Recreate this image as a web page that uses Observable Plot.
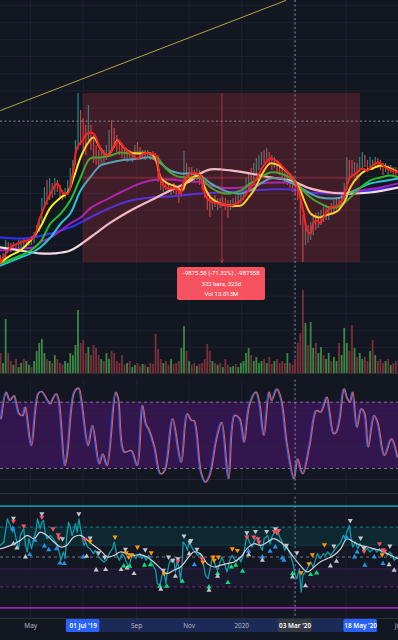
<!DOCTYPE html>
<html>
<head>
<meta charset="utf-8">
<script src="https://cdn.jsdelivr.net/npm/d3@7"></script>
<script src="https://cdn.jsdelivr.net/npm/@observablehq/plot@0.6"></script>
<style>
html,body{margin:0;padding:0;background:#131722;}
#wrap{position:relative;width:398px;height:640px;overflow:hidden;background:#131722;font-family:Roboto,"Liberation Sans",sans-serif;}
#wrap svg{position:absolute;left:0;}
.sep{position:absolute;left:0;width:398px;height:1px;background:#2a2e39;}
</style>
</head>
<body>
<div id="wrap"></div>
<script>
// ---------- DATA ----------
// time grid: day index since 2019-03-27 (daily BTC chart)
const startDate = "2019-03-27";
const endDate = "2020-07-01";

// candles sampled every 3 days: high / low (price), up flag
const candleHigh = [4380,4500,5260,5140,5080,5140,5020,5260,5260,5370,
 5310,5370,5490,5720,6130,6540,7710,8350,8760,8880,
 8590,8880,8760,8470,8180,8290,8760,9460,9930,11100,
 13850,12850,12380,11980,13150,11980,11390,10810,10520,10630,
 10520,10810,11680,12270,11800,11390,11100,10920,10630,10520,
 10520,10400,10810,10980,10690,10520,10520,10520,10400,10460,
 10340,10220,8880,8760,8700,8590,8470,8590,8470,8350,
 8470,10460,9760,9520,9520,9350,9460,9350,9050,8470,
 8060,7710,7710,7890,7710,7710,7770,7710,7590,7590,
 7710,7830,7890,8000,8290,8880,9230,9460,9760,10050,
 10220,10400,10520,10630,10400,10220,10110,9930,9760,9460,
 9350,9230,9050,8760,8590,8350,8180,6720,6310,6130,
 6310,6600,6830,6890,7010,7180,7300,7180,7420,7590,
 7770,7710,8000,8590,10110,9930,9930,9810,9760,10110,
 10400,10220,9930,10110,9930,10110,10050,9930,9760,9760,
 9640,9640,9520,9520];
const candleLow = [3970,4090,4200,4670,4550,4670,4550,4670,4790,4790,
 4850,4900,4960,5080,5370,5720,6310,7130,7300,7590,
 7710,7890,8060,7770,7590,7710,7890,8470,9050,9640,
 10520,10810,10520,10220,11100,10520,9760,9640,9460,9640,
 9760,9930,10220,10520,10630,10400,10220,10050,9930,9810,
 9930,9810,10050,10220,10110,10050,9930,10050,9930,9930,
 9760,8640,8180,8060,8180,8000,7890,8000,7830,7420,
 7770,8180,8760,8760,8880,8640,8760,8470,8180,7710,
 7010,6600,7010,7180,7010,7130,7240,7010,6540,7010,
 7130,7180,7300,7420,7590,7890,8180,8470,8760,9050,
 9350,9640,9760,9930,9640,9350,9460,9230,9050,8760,
 8590,8470,8290,8060,7890,7590,6130,3970,4960,5080,
 5260,5550,5840,5960,6130,6310,6420,6420,6720,6890,
 7010,7010,7180,7590,8180,8880,9050,8940,8760,9230,
 9350,9520,9230,9460,9350,9520,9460,9350,9050,9230,
 9050,9170,9050,8880];
const candleUp = ["0110010110","1101111101","0100011111","1000100001","0110000001",
 "0110010100","0001001000","1101001000","0010101001","1011111011",
 "1101001000","0100000010","1101101101","1011100101","1001010001","0100"].join("");
const volume = [20,10,54,20,12,8,14,6,10,14,
 12,8,6,12,22,30,34,20,14,12,
 10,18,14,10,8,12,10,20,18,28,
 63,30,33,20,26,18,28,25,18,14,
 12,20,14,22,20,12,10,18,8,10,
 12,6,8,10,7,9,8,6,10,9,
 39,24,14,10,12,8,14,9,10,12,
 25,47,22,12,8,10,7,9,10,14,
 29,22,12,10,8,10,6,14,8,6,
 7,9,6,10,12,20,25,18,12,16,
 10,12,14,10,16,9,12,14,10,12,
 10,20,10,8,14,30,40,83,50,28,
 51,25,30,20,26,18,14,20,12,16,
 12,30,18,45,30,22,48,25,16,20,
 14,16,12,22,33,18,12,14,10,12,
 14,8,10,12];

// moving averages [day, price]
const maRed = [[0,3970],[12,4850],[23,5140],[38,5430],[46,6600],[58,8000],[66,8590],[72,8060],[78,8000],[84,9170],[89,10690],[95,11100],[101,11510],[108,11510],[116,10630],[124,10220],[131,10690],[137,11100],[143,10690],[151,10340],[159,10050],[166,10340],[174,10340],[180,10220],[186,8760],[192,8350],[197,8290],[205,8290],[209,8000],[212,8590],[221,9170],[232,9050],[236,8180],[240,7710],[247,7480],[255,7420],[267,7300],[279,7590],[288,8180],[296,8760],[304,9520],[313,10050],[323,9810],[331,9350],[339,8940],[346,8180],[352,6830],[356,5840],[360,5660],[363,6250],[368,6420],[371,6250],[375,6600],[383,7180],[391,7300],[398,7770],[403,8590],[406,8940],[412,9170],[420,9460],[426,9350],[432,9640],[439,9810],[447,9520],[455,9350],[462,9230]];
const maYellow = [[0,3970],[12,4380],[23,4670],[35,5260],[46,6020],[58,7180],[70,7770],[78,8060],[85,8940],[93,10110],[101,10920],[108,11270],[116,10630],[124,10220],[131,10690],[136,11100],[143,10690],[151,10400],[162,10340],[174,10340],[180,10050],[186,8940],[194,8590],[201,8470],[211,8180],[215,8590],[221,8880],[232,9050],[236,8470],[244,7770],[255,7420],[267,7300],[279,7300],[288,7770],[296,8350],[304,9170],[313,9760],[323,9640],[331,9350],[339,8940],[348,8180],[354,7420],[360,6830],[369,6600],[377,6720],[385,6830],[392,7010],[400,7590],[406,8350],[414,8940],[424,9350],[432,9460],[441,9640],[453,9460],[462,9230]];
const maGreen = [[0,3910],[23,4380],[35,4670],[46,5140],[58,6250],[70,6830],[81,7590],[93,8940],[104,10050],[116,10110],[128,10220],[139,10400],[151,10340],[162,10400],[174,10340],[182,10110],[192,9460],[203,9050],[215,8940],[232,8880],[244,8350],[255,8060],[267,8000],[279,8180],[290,8590],[302,8940],[313,9230],[325,9170],[337,8880],[348,8350],[360,7770],[371,7420],[383,7180],[395,7300],[406,7770],[418,8350],[429,8760],[441,8940],[453,9050],[462,8940]];
const maCyan = [[0,3790],[23,4260],[35,4500],[46,4850],[58,5430],[70,6250],[81,6830],[93,8180],[104,8940],[116,9640],[128,9810],[139,9930],[151,9990],[162,10050],[174,10110],[186,9760],[197,9350],[209,9170],[221,9170],[232,9050],[244,8590],[255,8290],[267,8060],[279,8000],[290,8180],[302,8590],[313,8880],[325,8880],[337,8640],[348,8350],[360,8000],[371,7770],[383,7710],[395,7770],[406,8060],[418,8350],[429,8590],[441,8700],[462,8880]];
const maPurple = [[0,4670],[23,4790],[38,4850],[46,5140],[58,5430],[70,5840],[81,6250],[93,6600],[104,7130],[116,7480],[128,7770],[139,8060],[151,8350],[162,8590],[174,8760],[186,8820],[197,8820],[209,8760],[221,8700],[232,8640],[244,8470],[255,8350],[279,8350],[302,8590],[325,8640],[342,8590],[360,8290],[383,8060],[400,8060],[418,8180],[441,8350],[462,8590]];
const maBlue = [[0,5430],[23,5370],[38,5430],[58,5660],[81,6020],[104,6600],[128,7180],[151,7590],[174,7770],[197,7830],[232,8000],[255,8060],[290,8180],[313,8240],[337,8240],[360,8060],[383,8000],[406,8000],[429,8180],[462,8350]];
const maWhite = [[0,4850],[23,4670],[46,4500],[62,4500],[81,4670],[104,5430],[128,6310],[151,7010],[174,7590],[197,8180],[221,8760],[232,9170],[244,9410],[267,9350],[290,9170],[313,8940],[337,8760],[360,8290],[383,8060],[406,8000],[429,8060],[462,8350]];
const trendLine = [[0,12853],[331,19281]];

// measure tool
const measureStart = "2019-07-01", measureEnd = "2020-05-18", measureMid = "2019-12-09";
const measureHigh = 13846, measureLow = 3970;
const measureText = ["-9875.58 (-71.32%) , -987558", "322 bars, 322d", "Vol 13.013M"];
// crosshair
const crossDate = "2020-03-03", crossPrice = 12230;

// Stoch RSI %K [day, value]
const stochK = [[0,65],[6,89],[10,81.5],[15,86],[17,81.5],[21,69.5],[25,68],[28,75.5],[35,40.8],[43,87.6],[47,89.7],[54,81.5],[57,78.5],[60,83],[64,87.6],[67,81.5],[74,22.7],[77,34.8],[85,89.1],[90,92.7],[93,83],[101,40.8],[106,58.9],[114,24.2],[118,33.3],[123,22.7],[133,89.1],[136,83],[143,34.8],[151,36.3],[158,22.7],[164,77],[168,60.4],[172,54.4],[178,39.3],[185,15.2],[190,18.2],[199,64.9],[209,25.7],[216,69.5],[221,63.4],[224,63.4],[232,16.7],[237,7.6],[242,13.7],[250,46.8],[256,61.9],[264,10.7],[271,68],[277,64.9],[282,43.8],[288,77],[296,89.1],[300,78.5],[305,49.9],[311,89.1],[314,81.5],[320,92.1],[325,83],[332,40.8],[340,10.7],[344,28.7],[350,15.2],[358,40.8],[366,72.5],[371,71],[378,84.6],[381,72.5],[386,51.4],[389,52.9],[393,64.9],[398,92.1],[402,83],[405,80],[408,89.1],[413,57.4],[418,74],[422,69.5],[426,39.3],[433,68],[437,61.9],[445,31.8],[453,46.8],[460,30.3]];
const stochBands = [20, 80];
const stochGrid = [10, 40, 70];

// lower oscillator [day, value]
const oscFast = [[0,19.5],[4,25],[8,63.9],[12,50],[14,41.7],[15,50],[19,25],[21,13.9],[23,36.1],[27,47.2],[29,19.5],[31,8.4],[33,30.6],[36,13.9],[39,33.4],[41,41.7],[43,63.9],[46,47.2],[48,58.4],[50,61.1],[52,38.9],[54,30.6],[58,36.1],[61,30.6],[64,25],[66,19.5],[69,2.8],[70,-5.5],[73,8.4],[75,-2.8],[77,36.1],[79,58.4],[81,50],[83,36.1],[85,44.5],[87,55.6],[89,41.7],[91,63.9],[93,47.2],[95,30.6],[97,19.5],[99,25],[101,16.7],[104,13.9],[108,5.6],[110,11.1],[113,2.8],[116,-2.8],[120,-8.3],[123,-5.5],[126,5.6],[130,13.9],[132,25],[133,19.5],[135,2.8],[138,-5.5],[141,5.6],[144,0],[146,-8.3],[149,-16.7],[151,-5.5],[153,5.6],[155,2.8],[157,-2.8],[159,2.8],[162,5.6],[164,-2.8],[166,2.8],[169,-5.5],[172,2.8],[174,-5.5],[177,-13.9],[180,-22.2],[182,-44.4],[185,-47.2],[188,-27.8],[190,-25],[192,-44.4],[193,-30.5],[195,-16.7],[197,-5.5],[199,-8.3],[201,-2.8],[203,-25],[205,-8.3],[207,-16.7],[209,-38.9],[211,-8.3],[212,25],[215,19.5],[217,11.1],[219,25],[221,19.5],[224,11.1],[226,8.4],[229,2.8],[232,5.6],[235,-8.3],[238,-30.5],[241,-36.1],[243,-22.2],[246,0],[248,-8.3],[252,-22.2],[255,-8.3],[257,0],[260,-11.1],[263,-25],[266,-5.5],[269,2.8],[271,-2.8],[274,-8.3],[277,0],[279,-8.3],[282,2.8],[284,19.5],[286,36.1],[289,25],[292,16.7],[295,27.8],[298,33.4],[301,19.5],[304,11.1],[306,30.6],[310,36.1],[313,22.2],[315,33.4],[318,41.7],[321,47.2],[324,33.4],[327,25],[330,11.1],[332,19.5],[335,8.4],[337,2.8],[340,-13.9],[342,-30.5],[344,-36.1],[347,-19.4],[348,-41.6],[349,-58.3],[351,-30.5],[354,-25],[357,-16.7],[360,-8.3],[363,-16.7],[366,-2.8],[368,5.6],[371,-2.8],[375,5.6],[377,2.8],[380,8.4],[383,2.8],[386,8.4],[389,13.9],[392,19.5],[395,25],[398,36.1],[400,30.6],[402,41.7],[405,52.8],[407,30.6],[409,16.7],[412,25],[415,13.9],[417,22.2],[420,16.7],[422,11.1],[426,13.9],[429,8.4],[431,11.1],[434,13.9],[437,8.4],[440,13.9],[443,5.6],[446,11.1],[449,2.8],[452,8.4],[455,2.8],[457,-5.5],[460,0]];
const oscSlow = [[0,13.9],[12,19.5],[23,27.8],[31,36.1],[39,30.6],[46,41.7],[54,36.1],[62,25],[70,16.7],[77,19.5],[85,33.4],[93,36.1],[101,27.8],[108,19.5],[116,11.1],[124,0],[132,2.8],[139,8.4],[147,5.6],[155,2.8],[162,3.9],[170,0],[178,-8.3],[186,-19.4],[193,-27.8],[201,-22.2],[209,-16.7],[217,-2.8],[224,8.4],[232,5.6],[240,-11.1],[248,-16.7],[255,-13.9],[263,-11.1],[271,-8.3],[279,0],[286,13.9],[294,22.2],[302,19.5],[310,25],[317,30.6],[325,25],[333,13.9],[340,0],[348,-13.9],[356,-25],[364,-16.7],[371,-8.3],[379,-2.8],[387,2.8],[395,13.9],[402,30.6],[410,25],[418,19.5],[426,16.7],[433,13.9],[441,11.1],[449,5.6],[457,0],[462,-2.8]];
// signal triangles [day, value, direction, colour key]
const signals = [[15,65,"d","g"],[15,60,"d","r"],[14,47.2,"u","b"],[15,22.2,"u","g"],[19,15,"u","g"],[27,51.7,"d","r"],[29,0,"u","g"],[34,4,"u","b"],[40,27.8,"u","b"],[48,72.2,"d","g"],[48,66.7,"d","r"],[51,18.4,"u","b"],[56,12.2,"u","b"],[61,47.2,"d","r"],[65,13.9,"u","b"],[67,37.2,"d","r"],[68,31.7,"d","r"],[69,-10,"u","b"],[74,-11.1,"u","b"],[72,30.6,"d","g"],[91,72.2,"d","g"],[96,0,"u","b"],[100,1.1,"u","g"],[98,29.5,"d","r"],[104,31.7,"d","g"],[104,26.1,"d","o"],[111,-21.6,"u","g"],[122,-21.1,"u","g"],[114,7.2,"d","g"],[121,-0.5,"d","g"],[133,33.4,"d","o"],[140,-21.1,"u","g"],[143,-15,"u","n"],[147,-18.3,"u","g"],[150,-15.5,"u","n"],[145,12.8,"d","g"],[146,7.2,"d","o"],[149,0,"d","o"],[152,3.9,"d","o"],[155,-27.8,"u","g"],[159,16.7,"d","o"],[168,12.2,"d","g"],[175,7.2,"d","o"],[167,-13.9,"u","n"],[174,-12.8,"u","n"],[189,-22.2,"d","g"],[190,-27.8,"d","o"],[185,-48.9,"u","n"],[186,-53.9,"u","g"],[193,-48.9,"u","n"],[195,0,"d","g"],[200,-5.5,"d","g"],[206,-2.8,"d","g"],[206,-7.2,"d","r"],[203,-32.2,"u","g"],[211,-40.5,"u","n"],[213,35,"d","g"],[220,25,"d","g"],[221,27.8,"d","g"],[228,12.8,"d","g"],[219,5.6,"u","g"],[225,-12.8,"u","b"],[234,-2.8,"d","r"],[235,-8.3,"d","o"],[247,0,"d","o"],[248,-5.5,"d","o"],[253,0,"d","o"],[242,-50,"u","n"],[242,-55.5,"u","g"],[252,-27.8,"u","n"],[252,-32.2,"u","g"],[264,-42.8,"u","n"],[269,13.9,"d","o"],[275,11.1,"d","o"],[268,-16.7,"u","n"],[273,-13.9,"u","n"],[281,-23.9,"u","n"],[286,40.6,"d","g"],[286,33.4,"d","r"],[288,9.5,"u","b"],[288,3.9,"u","g"],[294,33.4,"d","r"],[296,42.8,"d","g"],[299,30.6,"d","r"],[300,25,"d","r"],[304,0,"u","b"],[304,-5.5,"u","g"],[309,42.8,"d","g"],[319,47.2,"d","g"],[318,42.8,"d","r"],[321,40.6,"d","r"],[323,44.5,"d","r"],[313,9.5,"u","b"],[319,16.7,"u","b"],[327,-1.7,"u","b"],[329,-5.5,"u","b"],[332,19.5,"d","g"],[344,7.2,"d","g"],[339,-27.8,"u","n"],[339,-33.3,"u","g"],[349,-26.1,"d","o"],[354,-48.3,"u","g"],[358,-11.1,"d","o"],[362,3.9,"d","o"],[360,-29.4,"u","n"],[367,-26.6,"u","n"],[376,20.6,"d","o"],[387,18.4,"d","g"],[383,-15,"u","g"],[390,-7.2,"u","g"],[406,61.1,"d","g"],[402,31.7,"u","b"],[411,0,"u","b"],[414,8.4,"u","b"],[418,31.7,"d","g"],[422,15,"d","g"],[422,9.5,"d","r"],[423,-13.9,"u","b"],[434,0,"u","b"],[440,22.2,"d","r"],[444,12.2,"d","r"],[446,10,"d","r"],[443,3.9,"d","o"],[452,18.4,"d","g"],[444,-11.1,"u","b"],[451,-12.8,"u","g"],[457,-22.2,"u","g"]];
const oscLevels = [85, 50, 20, 0, -20, -50, -85];

// time axis (grid at month starts; labels that the reference shows)
const gridDates = ["2019-05-01","2019-07-01","2019-09-01","2019-11-01","2020-01-01","2020-03-01","2020-05-01","2020-07-01"];
const tickDates = ["2019-05-01","2019-09-01","2019-11-01","2020-01-01","2020-07-01"];
const tickLabels = ["May","Sep","Nov","2020","Jul"];
const markerDates = ["2019-07-01","2020-03-03","2020-05-18"];
const markerLabels = ["01 Jul '19","03 Mar '20","18 May '20"];
const markerKinds = ["range","cross","range"];

// ---------- BUILD ----------
const W = 398;
const GRID = "#1e222e";
const t0 = new Date(startDate + "T00:00:00Z"), t1 = new Date(endDate + "T00:00:00Z");
const toDate = d => d3.utcDay.offset(t0, d);
const P = s => new Date(s + "T00:00:00Z");
const X = {type: "utc", domain: [t0, t1], axis: null};
const gridX = gridDates.map(P);
const crossX = P(crossDate);
const wrap = document.getElementById("wrap");
function place(svg, top) { svg.style.top = top + "px"; wrap.appendChild(svg); return svg; }
const base = {width: W, marginLeft: 0, marginRight: 0, style: {background: "transparent"}};

const candles = candleHigh.map((h, i) => ({date: toDate(i * 3), hi: h, lo: candleLow[i], up: candleUp[i] === "1", vol: volume[i]}));
const pts = arr => arr.map(([d, v]) => ({date: toDate(d), v}));
const cross = () => Plot.ruleX([crossX], {stroke: "#8a8d97", strokeDasharray: "2,2.5", strokeWidth: 1});

// price pane
const maLine = (arr, color, w = 2) => Plot.line(pts(arr), {x: "date", y: "v", stroke: color, strokeWidth: w, curve: "catmull-rom"});
const priceChart = Plot.plot({
  ...base, height: 373, marginTop: 0, marginBottom: 0,
  x: X, y: {domain: [-2517, 19281], axis: null},
  marks: [
    Plot.ruleY(d3.range(-2000, 20000, 1000), {stroke: GRID}),
    Plot.ruleX(gridX, {stroke: GRID}),
    Plot.ruleX(candles, {x: "date", y1: "lo", y2: "hi", stroke: d => d.up ? "#26a69a" : "#ef5350", strokeWidth: 1.2, strokeOpacity: 0.8}),
    maLine(maBlue, "#3131ff"),
    maLine(maPurple, "#a020c8"),
    maLine(maWhite, "#f3dce4", 2.2),
    maLine(maCyan, "#2cc3d0"),
    maLine(maGreen, "#22c02a"),
    maLine(maYellow, "#ffee22"),
    maLine(maRed, "#ff1c1c"),
    Plot.line(pts(trendLine), {x: "date", y: "v", stroke: "#b3a43c", strokeWidth: 1, clip: true}),
    Plot.rect([0], {x1: P(measureStart), x2: P(measureEnd), y1: measureLow, y2: measureHigh, fill: "#f23645", fillOpacity: 0.2}),
    Plot.ruleY([(measureHigh + measureLow) / 2], {x1: P(measureStart), x2: P(measureEnd), stroke: "#f23645", strokeOpacity: 0.55}),
    Plot.arrow([0], {x1: P(measureMid), x2: P(measureMid), y1: measureHigh, y2: measureLow, stroke: "#f23645", strokeOpacity: 0.6, headLength: 5, strokeWidth: 1}),
    Plot.ruleY([crossPrice], {stroke: "#8a8d97", strokeDasharray: "2,2.5"}),
    cross()
  ]
});
place(priceChart, 0);

// volume (overlay at bottom of price pane)
const volChart = Plot.plot({
  ...base, height: 83, marginTop: 0, marginBottom: 0,
  x: X, y: {domain: [0, 83], axis: null},
  marks: [
    Plot.ruleX(candles, {x: "date", y1: 0, y2: "vol", stroke: d => d.up ? "#3a8a44" : "#7a3038", strokeWidth: 1.8})
  ]
});
place(volChart, 290);

// measure label (positioned through the price scales)
const sx = priceChart.scale("x"), sy = priceChart.scale("y");
const lbl = document.createElement("div");
const lx = sx.apply(P(measureMid)), ly = sy.apply(measureLow) + 4.6;
lbl.style.cssText = `position:absolute;left:${lx - 44}px;top:${ly}px;width:88px;height:33.5px;background:#f7525f;border-radius:2px;color:#fff;font-size:6px;font-family:Roboto,sans-serif;text-align:center;line-height:10.4px;padding-top:1.5px;box-sizing:border-box;white-space:nowrap;`;
lbl.innerHTML = measureText.join("<br>");
wrap.appendChild(lbl);

// Stoch RSI pane
const rsiChart = Plot.plot({
  ...base, height: 120, marginTop: 6.6, marginBottom: 2.9,
  x: X, y: {domain: [0, 100], axis: null},
  marks: [
    Plot.ruleX(gridX, {stroke: GRID}),
    Plot.rect([0], {x1: t0, x2: t1, y1: stochBands[0], y2: stochBands[1], fill: "#33164e"}),
    Plot.ruleY(stochGrid, {stroke: "#2a2740", strokeOpacity: 0.8}),
    Plot.ruleY(stochBands, {stroke: "#7a7590", strokeDasharray: "3,3"}),
    Plot.line(pts(stochK), {x: "date", y: "v", stroke: "#2962ff", strokeWidth: 1.3, curve: "catmull-rom"}),
    Plot.line(pts(stochK), {x: "date", y: "v", stroke: "#e8614a", strokeWidth: 1.1, curve: "catmull-rom", dx: 1}),
    cross()
  ]
});
place(rsiChart, 373);

// lower oscillator pane
const colorOf = {g: "#c3c5cc", r: "#f7525f", b: "#2196f3", o: "#ff9800", n: "#00e676"};
const sig = signals.map(([d, v, dir, c]) => ({date: toDate(d), v, dir, c: colorOf[c]}));
const oscChart = Plot.plot({
  ...base, height: 126, marginTop: 3.7, marginBottom: 0.3,
  x: X, y: {domain: [-104, 100], axis: null},
  marks: [
    Plot.ruleX(gridX, {stroke: GRID}),
    Plot.rect([0], {x1: t0, x2: t1, y1: 20, y2: 50, fill: "#0e2a33", fillOpacity: 0.9}),
    Plot.rect([0], {x1: t0, x2: t1, y1: -20, y2: -50, fill: "#1c1930", fillOpacity: 0.9}),
    Plot.ruleY([oscLevels[0]], {stroke: "#0097a7", strokeWidth: 1.6}),
    Plot.ruleY([oscLevels[1]], {stroke: "#00838f", strokeDasharray: "3,3"}),
    Plot.ruleY([oscLevels[2]], {stroke: "#0b4650"}),
    Plot.ruleY([oscLevels[3]], {stroke: "#787b86", strokeDasharray: "3,3"}),
    Plot.ruleY([oscLevels[4]], {stroke: "#3a1d52"}),
    Plot.ruleY([oscLevels[5]], {stroke: "#7b1fa2", strokeDasharray: "3,3"}),
    Plot.ruleY([oscLevels[6]], {stroke: "#9c27b0", strokeWidth: 1.6}),
    Plot.line(pts(oscFast), {x: "date", y: "v", stroke: "#0c9dab", strokeWidth: 1.3}),
    Plot.line(pts(oscSlow), {x: "date", y: "v", stroke: "#d1d4dc", strokeWidth: 1.2, curve: "catmull-rom"}),
    Plot.dot(sig.filter(d => d.dir === "d"), {x: "date", y: "v", symbol: "triangle", rotate: 180, r: 1.9, fill: "c", stroke: "none"}),
    Plot.dot(sig.filter(d => d.dir === "u"), {x: "date", y: "v", symbol: "triangle", r: 1.9, fill: "c", stroke: "none"}),
    cross()
  ]
});
place(oscChart, 493);

// pane separators
[373, 493].forEach(t => { const s = document.createElement("div"); s.className = "sep"; s.style.top = t + "px"; wrap.appendChild(s); });

// time axis
const half = 468; // hours, half box width
const ticks = tickDates.map((d, i) => ({date: P(d), label: tickLabels[i]}));
const markers = markerDates.map((d, i) => ({date: P(d), label: markerLabels[i], kind: markerKinds[i]}));
const axisChart = Plot.plot({
  ...base, height: 21, marginTop: 0, marginBottom: 8,
  x: X,
  marks: [
    Plot.rect([0], {x1: d3.utcHour.offset(P(markerDates[0]), half), x2: d3.utcHour.offset(P(markerDates[2]), -half), fill: "#1c2a58"}),
    Plot.text(ticks, {x: "date", text: "label", fill: "#b2b5be", fontSize: 6.4}),
    Plot.rect(markers, {x1: d => d3.utcHour.offset(d.date, -half), x2: d => d3.utcHour.offset(d.date, half), fill: d => d.kind === "range" ? "#2962ff" : "#363a45", rx: 1.5}),
    Plot.text(markers, {x: "date", text: "label", fill: "#ffffff", fontSize: 6.4, fontWeight: 600})
  ]
});
place(axisChart, 619);
const axisSep = document.createElement("div"); axisSep.className = "sep"; axisSep.style.top = "618px"; wrap.appendChild(axisSep);
</script>
</body>
</html>
